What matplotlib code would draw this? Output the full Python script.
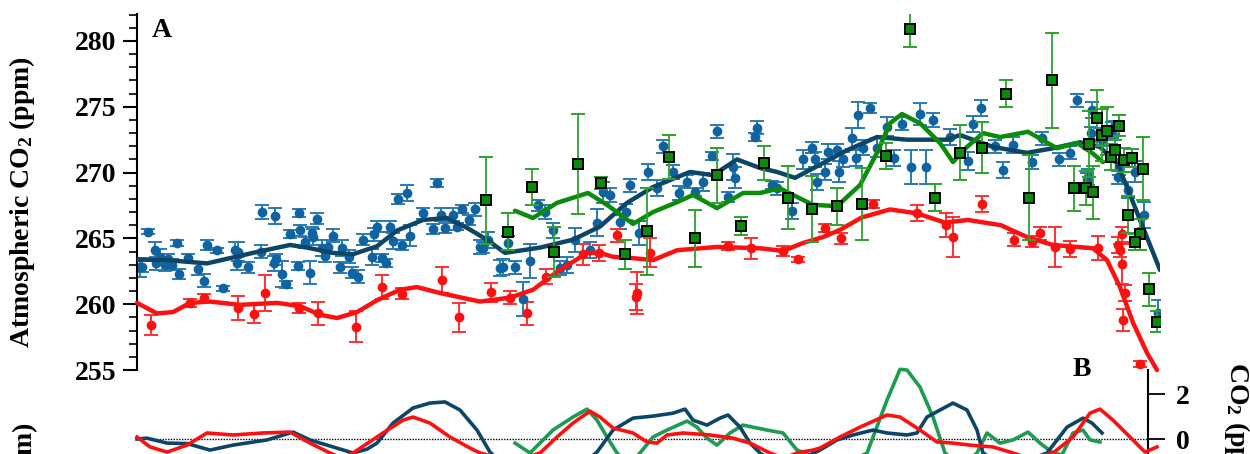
import numpy as np
import matplotlib
matplotlib.use("Agg")
from matplotlib import pyplot as plt

plt.rcParams['font.family'] = ['Liberation Serif', 'DejaVu Serif']
plt.rcParams['font.weight'] = 'bold'
plt.rcParams['mathtext.fontset'] = 'custom'
plt.rcParams['mathtext.rm'] = 'Liberation Serif:bold'
plt.rcParams['mathtext.it'] = 'Liberation Serif:bold:italic'
plt.rcParams['mathtext.bf'] = 'Liberation Serif:bold'

# ---------------- panel A: measured points (age ka, CO2 ppm, 1 sigma)
blue_age = [0.03, 0.05, 0.11, 0.18, 0.19, 0.23, 0.28, 0.31, 0.35, 0.40, 0.42, 0.51, 0.61, 0.67, 0.70,
            0.80, 0.86, 0.98, 1.01, 1.00, 1.11, 1.24, 1.25, 1.38, 1.37, 1.39, 1.45, 1.49, 1.53, 1.62,
            1.63, 1.61, 1.68, 1.73, 1.75, 1.76, 1.80, 1.85, 1.88, 1.91, 1.96, 2.03, 2.05, 2.12, 2.15,
            2.21, 2.26, 2.35, 2.37, 2.40, 2.45, 2.49, 2.53, 2.56, 2.61, 2.65, 2.70, 2.73, 2.86, 2.96,
            3.00, 3.04, 3.08, 3.16, 3.20, 3.25, 3.32, 3.38, 3.43, 3.46, 3.51, 3.63, 3.66, 3.71, 3.78,
            3.86, 3.93, 4.01, 4.08, 4.16, 4.23, 4.30, 4.38, 4.53, 4.60, 4.66, 4.73, 4.83, 4.89, 4.93,
            5.02, 5.11, 5.20, 5.26, 5.36, 5.42, 5.50, 5.58, 5.66, 5.75, 5.80, 5.91, 5.96, 5.98, 6.18,
            6.20, 6.35, 6.40, 6.55, 6.66, 6.75, 6.78, 6.80, 6.88, 6.91, 7.00, 7.02, 7.06, 7.15, 7.19,
            7.21, 7.26, 7.33, 7.40, 7.50, 7.57, 7.65, 7.74, 7.83, 7.89, 7.96, 8.13, 8.31, 8.36, 8.44,
            8.58, 8.66, 8.76, 8.95, 9.05, 9.22, 9.33, 9.40, 9.55, 9.54, 9.51, 9.50, 9.63, 9.65, 9.75,
            9.76, 9.81, 9.82, 9.91, 9.98, 10.07, 10.21]
blue_co2 = [262.8, 262.85, 265.5, 264.1, 263.1, 263.6, 263.0, 263.4, 263.0, 264.65, 262.3, 263.5, 262.7,
            261.8, 264.5, 264.1, 261.2, 264.1, 264.0, 263.1, 262.8, 264.0, 267.0, 266.7, 263.1, 263.4,
            262.3, 261.5, 265.3, 266.9, 265.6, 262.9, 264.7, 262.4, 265.4, 265.1, 266.5, 264.3, 263.7,
            264.35, 265.2, 262.8, 264.3, 263.6, 262.4, 262.1, 264.9, 263.6, 265.3, 265.9, 263.5, 263.1,
            265.9, 264.8, 268.0, 264.5, 268.45, 265.2, 266.9, 265.7, 269.2, 266.8, 265.8, 266.8, 265.9,
            267.2, 266.4, 267.2, 264.35, 264.3, 264.9, 262.75, 262.8, 264.65, 262.8, 260.4, 263.3,
            267.5, 267.0, 265.6, 262.75, 263.0, 264.9, 264.1, 266.2, 268.5, 268.3, 266.25, 267.0,
            269.05, 265.4, 270.05, 268.8, 272.0, 270.05, 268.45, 269.3, 268.5, 269.3, 271.25, 273.15,
            268.15, 270.4, 269.6, 272.7, 273.4, 269.05, 268.8, 267.1, 271.0, 271.9, 271.0, 269.3,
            270.05, 271.6, 271.75, 270.05, 271.0, 272.6, 271.1, 274.4, 271.9, 274.9, 271.9, 273.5,
            271.1, 273.7, 270.4, 274.45, 270.4, 274.0, 272.7, 270.9, 273.7, 274.9, 272.0, 270.2,
            272.1, 270.8, 272.6, 271.0, 271.5, 275.5, 274.75, 273.0, 269.65, 269.45, 272.85, 272.5,
            273.25, 273.4, 269.65, 270.4, 268.7, 270.05, 266.8, 259.3]
blue_err = [0.7, 0.4, 0.2, 0.6, 0.5, 0.6, 0.5, 0.4, 0.4, 0.2, 0.4, 0.3, 0.5, 0.5, 0.4, 0.2, 0.2, 0.6,
            0.7, 0.5, 0.4, 0.5, 0.5, 0.6, 0.6, 0.4, 1.0, 0.3, 0.3, 0.3, 0.4, 0.3, 0.4, 0.9, 0.5, 0.6,
            0.4, 0.6, 0.5, 0.5, 0.5, 0.4, 0.6, 0.5, 0.4, 0.5, 0.4, 0.6, 0.5, 0.4, 0.3, 0.3, 0.4, 0.6,
            0.4, 0.4, 0.6, 0.8, 0.4, 0.4, 0.3, 0.5, 0.4, 0.5, 0.3, 0.3, 0.4, 0.5, 0.5, 0.4, 0.6, 0.6,
            0.6, 0.5, 0.5, 1.3, 1.3, 0.4, 0.5, 0.6, 0.5, 0.6, 0.9, 0.6, 1.0, 0.8, 0.5, 0.5, 0.6, 0.5,
            0.9, 0.6, 0.6, 0.5, 0.5, 0.5, 0.5, 0.3, 0.7, 0.3, 0.5, 0.4, 1.0, 0.8, 0.3, 0.5, 0.3, 0.5,
            0.6, 0.7, 0.4, 0.6, 0.6, 0.6, 0.6, 0.4, 0.8, 0.6, 0.8, 0.6, 1.0, 0.6, 0.4, 0.7, 0.7, 0.6,
            0.5, 1.3, 0.8, 1.3, 0.5, 0.6, 0.7, 0.6, 0.6, 0.5, 0.6, 0.6, 0.5, 0.5, 0.5, 0.5, 0.5, 0.6,
            0.5, 0.6, 0.5, 0.5, 0.5, 0.6, 0.5, 0.5, 0.6, 0.6, 0.8, 1.0, 1.0]

red_age = [0.14, 0.53, 0.67, 1.01, 1.17, 1.28, 1.62, 1.81, 2.19, 2.45, 2.65, 3.05, 3.22, 3.54, 3.73,
           3.90, 4.09, 4.46, 4.62, 4.80, 5.00, 4.99, 5.13, 5.91, 6.14, 6.46, 6.61, 6.88, 7.04, 7.36,
           7.80, 8.09, 8.16, 8.45, 8.77, 8.95, 9.03, 9.18, 9.33, 9.61, 9.81, 9.85, 9.83, 9.85, 9.88,
           9.86, 10.03]
red_co2 = [258.4, 260.1, 260.5, 259.7, 259.25, 260.85, 259.7, 259.3, 258.3, 261.3, 260.8, 261.85, 259.0,
           260.9, 260.5, 259.3, 262.1, 263.8, 263.9, 265.25, 260.85, 260.55, 263.9, 264.4, 264.25,
           264.05, 263.4, 265.8, 265.0, 267.6, 266.9, 266.0, 265.1, 267.6, 264.9, 264.75, 265.4,
           264.35, 264.2, 264.25, 264.5, 265.3, 264.1, 263.05, 260.85, 258.8, 255.45]
red_err = [0.75, 0.3, 0.3, 0.9, 0.7, 1.4, 0.4, 0.9, 1.2, 0.9, 0.4, 1.0, 1.1, 0.7, 0.5, 0.9, 0.6, 0.8,
           0.6, 0.5, 1.6, 1.0, 1.1, 0.3, 0.8, 0.4, 0.2, 0.3, 0.4, 0.3, 0.6, 0.9, 1.5, 0.6, 0.5, 0.4,
           0.5, 1.5, 0.6, 0.9, 0.6, 0.6, 0.5, 1.5, 0.6, 0.8, 0.2]

green_age = [3.49, 3.71, 3.95, 4.17, 4.41, 4.64, 4.88, 5.10, 5.32, 5.58, 5.80, 6.04, 6.27, 6.51, 6.75,
             7.00, 7.25, 7.49, 7.73, 7.98, 8.23, 8.45, 8.69, 8.92, 9.15, 9.37, 9.49, 9.52, 9.56, 9.60,
             9.65, 9.70, 9.74, 9.78, 9.82, 9.87, 9.95, 10.06, 9.91, 10.03, 9.98, 10.12, 10.20]
green_co2 = [267.9, 265.5, 268.9, 264.0, 270.65, 269.2, 263.8, 265.55, 271.2, 265.0, 269.8, 265.95,
             270.7, 268.1, 267.25, 267.45, 267.6, 271.25, 280.9, 268.1, 271.5, 271.9, 276.0, 268.1,
             277.0, 268.8, 268.8, 272.2, 268.5, 274.15, 272.85, 273.15, 271.2, 271.7, 273.55, 270.95,
             271.1, 270.3, 266.8, 265.3, 264.7, 261.15, 258.65]
green_err = [3.3, 1.4, 1.4, 1.9, 3.8, 0.45, 1.1, 3.3, 1.65, 2.15, 2.1, 0.7, 1.3, 2.4, 2.5, 1.4, 2.75,
             1.0, 1.35, 1.0, 2.1, 1.95, 1.0, 3.2, 3.6, 1.7, 1.3, 2.5, 2.0, 2.1, 2.0, 1.8, 1.0, 0.8,
             0.8, 0.9, 0.7, 2.4, 1.4, 1.2, 0.6, 1.25, 0.8]

# ---------------- panel A: smoothed curves
navy_age = [0.00, 0.30, 0.70, 1.16, 1.53, 1.70, 1.96, 2.16, 2.40, 2.60, 2.86, 3.10, 3.30, 3.50, 3.68,
            4.03, 4.36, 4.63, 4.90, 5.16, 5.53, 5.76, 6.00, 6.23, 6.40, 6.58, 6.83, 7.10, 7.40, 7.70,
            8.10, 8.23, 8.56, 8.90, 9.16, 9.43, 9.63, 9.80, 9.90, 10.03, 10.23]
navy_co2 = [263.4, 263.35, 263.1, 263.9, 264.5, 264.3, 263.9, 263.8, 264.4, 265.6, 266.4, 266.55, 265.8,
            264.9, 263.9, 264.3, 264.9, 265.9, 267.7, 268.9, 270.05, 269.8, 271.0, 270.35, 270.05,
            269.6, 270.6, 271.7, 272.7, 272.5, 272.5, 272.85, 271.95, 271.5, 271.85, 272.3, 271.95,
            270.7, 268.9, 266.4, 262.6]

redfit_age = [0.00, 0.20, 0.36, 0.53, 0.73, 1.03, 1.40, 1.63, 1.83, 2.00, 2.20, 2.40, 2.63, 2.80, 3.03,
              3.43, 3.73, 3.96, 4.20, 4.50, 4.63, 4.76, 4.96, 5.16, 5.40, 5.80, 6.23, 6.46, 6.66,
              6.86, 7.03, 7.25, 7.53, 7.80, 8.08, 8.31, 8.64, 8.90, 9.16, 9.56, 9.70, 9.83, 9.96,
              10.10, 10.20]
redfit_co2 = [260.1, 259.3, 259.4, 260.1, 260.2, 259.95, 260.1, 259.85, 259.2, 258.95, 259.4, 260.3,
              261.1, 261.3, 260.85, 260.2, 260.5, 261.1, 262.45, 263.9, 263.9, 263.6, 263.5, 263.35,
              264.1, 264.35, 264.25, 264.05, 264.65, 265.1, 265.65, 266.6, 267.2, 266.9, 266.2,
              266.4, 266.0, 265.1, 264.5, 264.25, 263.35, 261.3, 258.6, 256.3, 255.0]

greenfit_age = [3.78, 3.96, 4.20, 4.51, 4.70, 4.96, 5.16, 5.40, 5.56, 5.80, 6.06, 6.23, 6.43, 6.60,
                6.76, 7.00, 7.23, 7.40, 7.53, 7.65, 7.83, 8.03, 8.16, 8.30, 8.46, 8.63, 8.91, 9.20,
                9.40, 9.55, 9.66]
greenfit_co2 = [267.1, 266.55, 267.7, 268.45, 267.55, 266.1, 267.0, 267.75, 268.3, 267.3, 268.45,
                268.45, 268.8, 268.15, 267.55, 267.45, 269.05, 271.5, 273.75, 274.45, 273.75, 272.25,
                270.8, 271.95, 273.0, 272.7, 273.1, 271.85, 272.25, 271.5, 270.8]

# ---------------- panel B: detrended residuals (ppm)
bnavy_age = [0.00, 0.10, 0.30, 0.50, 0.73, 0.96, 1.30, 1.56, 1.73, 1.96, 2.16, 2.30, 2.40, 2.56, 2.76,
             2.93, 3.08, 3.23, 3.40, 3.53, 3.70, 4.40, 4.60, 4.76, 4.96, 5.16, 5.36, 5.48, 5.56,
             5.70, 5.83, 5.91, 6.03, 6.13, 6.23, 6.45, 6.83, 7.00, 7.16, 7.36, 7.50, 7.70, 7.80,
             7.90, 8.16, 8.30, 8.40, 8.46, 8.70, 9.10, 9.30, 9.46, 9.55, 9.65]
bnavy_val = [0.0, 0.04, -0.18, -0.2, -0.49, -0.27, -0.04, 0.31, -0.04, -0.35, -0.62, -0.45, -0.18,
             0.71, 1.38, 1.6, 1.65, 1.29, 0.4, -0.58, -1.3, -1.3, -0.58, 0.4, 0.93, 1.02, 1.15, 1.33,
             0.84, 0.62, 0.93, 1.07, 0.53, -0.18, -0.62, -1.3, -0.49, -0.04, 0.18, 0.4, 0.27, 0.18,
             0.27, 0.98, 1.6, 1.29, 0.4, -0.62, -1.3, -0.62, 0.53, 0.93, 0.71, 0.27]

bred_age = [0.00, 0.13, 0.30, 0.50, 0.70, 0.96, 1.26, 1.53, 1.73, 1.93, 2.05, 2.16, 2.46, 2.66, 2.76,
            2.93, 3.13, 3.33, 3.43, 3.75, 4.03, 4.20, 4.36, 4.53, 4.63, 4.76, 4.96, 5.10, 5.20, 5.30,
            5.46, 5.73, 5.96, 6.13, 6.33, 6.47, 6.60, 6.76, 6.83, 7.03, 7.23, 7.50, 7.63, 7.83, 8.00,
            8.16, 8.33, 8.56, 8.76, 8.95, 9.16, 9.36, 9.53, 9.63, 9.76, 9.93, 10.08, 10.20]
bred_val = [0.09, -0.35, -0.58, -0.27, 0.27, 0.18, 0.27, 0.31, -0.18, -0.62, -0.85, -0.62, 0.27, 0.84,
            0.98, 0.71, 0.09, -0.4, -0.62, -1.0, -0.62, 0.09, 0.71, 1.24, 0.98, 0.49, 0.27, -0.13,
            -0.18, 0.18, 0.27, 0.18, 0.04, -0.18, -0.62, -0.85, -0.62, -0.49, -0.4, 0.09, 0.53, 1.07,
            0.98, 0.4, -0.13, -0.18, -0.27, -0.35, -0.62, -0.9, -0.62, 0.09, 1.15, 1.33, 0.84, 0.09,
            -0.58, -0.35]

bgreen_age = [3.78, 3.93, 4.16, 4.36, 4.50, 4.60, 4.70, 4.80, 4.92, 5.03, 5.16, 5.30, 5.50, 5.60,
              5.70, 5.80, 5.93, 6.06, 6.30, 6.46, 6.60, 6.68, 7.00, 7.30, 7.50, 7.63, 7.70, 7.83,
              7.96, 8.08, 8.25, 8.40, 8.50, 8.63, 8.76, 8.91, 9.03, 9.16, 9.25, 9.36, 9.46, 9.53,
              9.63]
bgreen_val = [-0.18, -0.62, 0.4, 0.98, 1.33, 0.84, 0.09, -0.62, -1.1, -0.62, 0.09, 0.4, 0.8, 0.53,
              0.04, -0.27, 0.27, 0.62, 0.4, 0.27, -0.49, -0.62, -1.3, -0.62, 1.73, 3.1, 3.07, 2.31,
              0.98, -0.62, -1.2, -0.62, 0.27, -0.18, -0.04, 0.31, -0.18, -0.62, -0.7, 0.27, 0.4,
              -0.04, -0.13]

# --------------------------------------------
W, H = 1250, 454
fig = plt.figure(figsize=(W / 100, H / 100), dpi=100)
font = 20

c_blue = '#0f63a0'
c_blue_e = '#2a7ab5'
c_navy = '#0c4667'
c_red = '#ff1010'
c_red_e = '#ff3030'
c_green = '#0a8c0a'
c_green_e = '#2ca32c'
c_green_b = '#1e9a52'

# --------------------------------------------
axA = fig.add_axes([137 / W, 84 / H, 1023 / W, 356 / H])
axA.set_xlim(0, 10.23)
axA.set_ylim(255, 282.05)
for s in ['top', 'right', 'bottom']:
    axA.spines[s].set_visible(False)
axA.spines['left'].set_linewidth(1.5)
axA.set_xticks([])
axA.set_yticks([255, 260, 265, 270, 275, 280])
axA.set_yticks(np.arange(256, 283, 1), minor=True)
axA.tick_params(axis='y', which='major', length=10, width=1.5, labelsize=font, pad=5)
axA.tick_params(axis='y', which='minor', length=6, width=1.2)
axA.patch.set_alpha(0)

axA.errorbar(blue_age, blue_co2, yerr=blue_err, fmt='o', ms=6, color=c_blue, ecolor=c_blue_e,
             elinewidth=1.4, capsize=5, capthick=1.4, zorder=2)
axA.errorbar(red_age, red_co2, yerr=red_err, fmt='o', ms=6, color=c_red, ecolor=c_red_e,
             elinewidth=1.4, capsize=5, capthick=1.4, zorder=2)
axA.plot(navy_age, navy_co2, color=c_navy, lw=3.2, solid_capstyle='round', zorder=3)
axA.plot(redfit_age, redfit_co2, color=c_red, lw=3.2, solid_capstyle='round', zorder=3, clip_on=False)
axA.plot(greenfit_age, greenfit_co2, color=c_green, lw=3.2, solid_capstyle='round', zorder=3)
axA.errorbar(green_age, green_co2, yerr=green_err, fmt='s', ms=6.5, mfc=c_green, mec='black',
             mew=1.4, ecolor=c_green_e, elinewidth=1.3, capsize=5, capthick=1.3, zorder=4)

axA.text(0.024, 0.955, 'A', transform=axA.transAxes, fontsize=font, fontweight='bold',
         ha='center', va='center')
fig.text(22 / W, 1 - 202 / H, 'Atmospheric CO$_2$ (ppm)', rotation=90, fontsize=font,
         fontweight='bold', ha='center', va='center')

# --------------------------------------------
axB = fig.add_axes([137 / W, -120 / H, 1011 / W, 204 / H])
axB.set_xlim(0, 10.11)
axB.set_ylim(-6, 3.07)
for s in ['top', 'left', 'bottom']:
    axB.spines[s].set_visible(False)
axB.spines['right'].set_linewidth(1.5)
axB.set_xticks([])
axB.yaxis.tick_right()
axB.set_yticks([0, 2])
axB.tick_params(axis='y', which='major', length=12, width=1.3, labelsize=font, pad=8)
axB.patch.set_alpha(0)
axB.axhline(0, color='black', ls=(0, (1, 1)), lw=1.0, zorder=1)

axB.plot(bnavy_age, bnavy_val, color=c_navy, lw=2.6, clip_on=False, zorder=3)
axB.plot(bgreen_age, bgreen_val, color=c_green_b, lw=2.6, clip_on=False, zorder=2)
axB.plot(bred_age, bred_val, color=c_red, lw=2.6, clip_on=False, zorder=4)

fig.text(1082 / W, 1 - 370 / H, 'B', fontsize=font, fontweight='bold', ha='center', va='center')
fig.text(1237 / W, 1 - 362 / H, 'CO$_2$ (ppm)', rotation=270, fontsize=font, fontweight='bold',
         ha='center', va='top')
fig.text(25 / W, 1 - 422 / H, '$\\Delta$CO$_2$ (ppm)', rotation=90, fontsize=font,
         fontweight='bold', ha='center', va='top')

fig.savefig('out.png', dpi=100)
